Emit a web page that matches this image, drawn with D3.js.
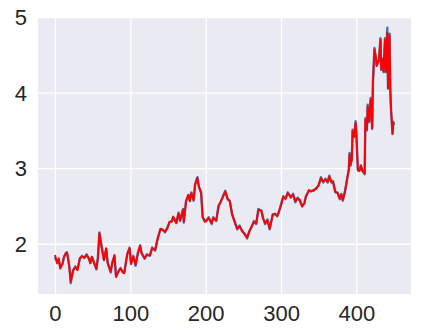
<!DOCTYPE html>
<html>
<head>
<meta charset="utf-8">
<script src="https://cdn.jsdelivr.net/npm/d3@7"></script>
<style>
  body { margin: 0; background: #fff; }
  svg text { font-family: "Liberation Sans", Arial, sans-serif; }
</style>
</head>
<body>
<div id="chart"></div>
<script>
// sample index and value
const steps = [0, 3, 5, 7, 10, 12, 14, 16, 19, 21, 24, 27, 30, 33, 36, 39, 42, 45, 47, 49,
  52, 55, 57, 59, 62, 65, 68, 70, 74, 76, 79, 81, 85, 87, 90, 92, 96, 99, 101, 104,
  107, 110, 113, 115, 119, 122, 126, 129, 133, 136, 140, 143, 146, 149, 152, 155, 157, 161, 164, 166,
  170, 171, 174, 177, 179, 181, 184, 186, 189, 191, 194, 196, 199, 201, 204, 208, 210, 214, 217, 220,
  223, 226, 229, 232, 235, 239, 242, 245, 248, 252, 255, 258, 261, 264, 267, 270, 274, 276, 279, 282,
  285, 289, 292, 295, 297, 300, 303, 306, 309, 313, 316, 319, 322, 325, 328, 331, 333, 337, 340, 343,
  347, 350, 353, 356, 359, 362, 364, 367, 369, 372, 375, 378, 380, 382, 385, 387, 390, 391, 392, 394,
  395, 397, 399, 400, 402, 404, 406, 408, 411, 412, 414, 415, 417, 419, 421, 422, 424, 426, 427, 430,
  432, 433, 435, 436, 438, 439, 441, 442, 444, 445, 446, 448, 449, 450];

const predicted = [1.85, 1.74, 1.81, 1.67, 1.74, 1.83, 1.86, 1.89, 1.69, 1.50, 1.65, 1.69, 1.65, 1.81, 1.83, 1.82, 1.85, 1.81, 1.74, 1.83,
  1.74, 1.67, 1.81, 2.14, 1.96, 1.78, 1.94, 1.74, 1.63, 1.74, 1.85, 1.56, 1.65, 1.67, 1.63, 1.61, 1.87, 1.94, 1.74, 1.83,
  1.72, 1.87, 1.98, 1.87, 1.81, 1.85, 1.85, 1.94, 1.92, 2.05, 2.20, 2.18, 2.16, 2.20, 2.29, 2.29, 2.36, 2.27, 2.40, 2.31,
  2.45, 2.29, 2.56, 2.65, 2.56, 2.67, 2.58, 2.78, 2.87, 2.76, 2.67, 2.36, 2.29, 2.31, 2.34, 2.27, 2.34, 2.31, 2.49, 2.56,
  2.62, 2.69, 2.60, 2.56, 2.40, 2.27, 2.20, 2.23, 2.18, 2.12, 2.08, 2.16, 2.23, 2.29, 2.27, 2.45, 2.44, 2.34, 2.27, 2.31,
  2.20, 2.38, 2.40, 2.36, 2.42, 2.51, 2.62, 2.60, 2.67, 2.62, 2.65, 2.56, 2.60, 2.58, 2.49, 2.54, 2.62, 2.71, 2.69, 2.71,
  2.73, 2.78, 2.87, 2.82, 2.85, 2.82, 2.89, 2.82, 2.82, 2.69, 2.67, 2.60, 2.65, 2.58, 2.69, 2.82, 2.98, 3.18, 3.04, 3.11,
  3.49, 3.42, 3.60, 3.46, 2.98, 2.96, 3.04, 2.96, 2.93, 3.64, 3.51, 3.82, 3.62, 3.91, 3.53, 4.13, 4.57, 4.46, 4.35, 4.44,
  4.70, 4.31, 4.44, 4.28, 4.70, 4.28, 4.79, 4.06, 4.76, 4.04, 3.77, 3.46, 3.60, 3.58];

const actual = [1.82, 1.76, 1.79, 1.69, 1.73, 1.82, 1.87, 1.88, 1.71, 1.48, 1.64, 1.70, 1.66, 1.80, 1.84, 1.81, 1.86, 1.80, 1.75, 1.82,
  1.75, 1.66, 1.82, 2.15, 1.95, 1.79, 1.93, 1.75, 1.62, 1.75, 1.84, 1.57, 1.64, 1.68, 1.62, 1.62, 1.86, 1.95, 1.73, 1.84,
  1.71, 1.88, 1.97, 1.88, 1.80, 1.86, 1.84, 1.95, 1.91, 2.06, 2.19, 2.19, 2.15, 2.21, 2.28, 2.30, 2.35, 2.28, 2.41, 2.30,
  2.46, 2.28, 2.57, 2.64, 2.57, 2.68, 2.57, 2.79, 2.88, 2.75, 2.68, 2.35, 2.30, 2.30, 2.35, 2.26, 2.35, 2.30, 2.50, 2.55,
  2.63, 2.70, 2.59, 2.57, 2.39, 2.28, 2.19, 2.24, 2.17, 2.13, 2.07, 2.17, 2.22, 2.30, 2.26, 2.46, 2.43, 2.35, 2.26, 2.32,
  2.19, 2.39, 2.39, 2.37, 2.41, 2.52, 2.63, 2.59, 2.68, 2.61, 2.66, 2.55, 2.61, 2.57, 2.50, 2.53, 2.63, 2.70, 2.70, 2.70,
  2.74, 2.77, 2.88, 2.81, 2.86, 2.81, 2.90, 2.81, 2.83, 2.68, 2.68, 2.59, 2.66, 2.57, 2.70, 2.81, 2.99, 3.20, 3.03, 3.12,
  3.51, 3.41, 3.62, 3.45, 2.97, 2.97, 3.03, 2.97, 2.92, 3.66, 3.50, 3.84, 3.61, 3.93, 3.52, 4.15, 4.59, 4.45, 4.36, 4.43,
  4.72, 4.30, 4.45, 4.27, 4.72, 4.27, 4.86, 4.05, 4.78, 4.03, 3.78, 3.45, 3.61, 3.57];

const xTicks = [0, 100, 200, 300, 400];
const yTicks = [2, 3, 4, 5];

const width = 422, height = 336;
const margin = { left: 38, right: 11, top: 17, bottom: 42 };

const svg = d3.select('#chart').append('svg')
  .attr('width', width)
  .attr('height', height);

const x = d3.scaleLinear().domain([-22.5, 472.5]).range([margin.left, width - margin.right]);
const y = d3.scaleLinear().domain([1.335, 5]).range([height - margin.bottom, margin.top]);

svg.append('rect')
  .attr('x', margin.left)
  .attr('y', margin.top)
  .attr('width', width - margin.left - margin.right)
  .attr('height', height - margin.top - margin.bottom)
  .attr('fill', '#eaeaf2');

const xAxis = svg.append('g')
  .attr('transform', 'translate(0,' + (height - margin.bottom) + ')')
  .call(d3.axisBottom(x).tickValues(xTicks).tickFormat(d3.format('d'))
    .tickSize(-(height - margin.top - margin.bottom)).tickPadding(11));
const yAxis = svg.append('g')
  .attr('transform', 'translate(' + margin.left + ',0)')
  .call(d3.axisLeft(y).tickValues(yTicks).tickFormat(d3.format('d'))
    .tickSize(-(width - margin.left - margin.right)).tickPadding(11));

[xAxis, yAxis].forEach(g => {
  g.select('.domain').remove();
  g.selectAll('.tick line').attr('stroke', '#fff').attr('stroke-width', 1.3);
  g.selectAll('.tick text').attr('fill', '#262626').style('font-size', '22px');
});
yAxis.selectAll('.tick text').attr('dy', '0.35em');

const line = d3.line().x(d => x(d[0])).y(d => y(d[1]));

svg.append('path')
  .datum(steps.map((s, i) => [s, actual[i]]))
  .attr('d', line)
  .attr('fill', 'none')
  .attr('stroke', '#4c72b0')
  .attr('stroke-width', 2.4)
  .attr('stroke-linejoin', 'round');

svg.append('path')
  .datum(steps.map((s, i) => [s, predicted[i]]))
  .attr('d', line)
  .attr('fill', 'none')
  .attr('stroke', '#ff0000')
  .attr('stroke-width', 1.9)
  .attr('stroke-linejoin', 'round');
</script>
</body>
</html>
